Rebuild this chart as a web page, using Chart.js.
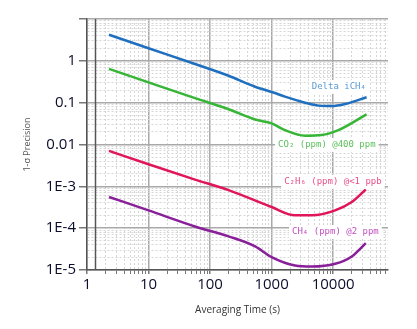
<!DOCTYPE html>
<html>
<head>
<meta charset="utf-8">
<script src="https://cdn.jsdelivr.net/npm/chart.js@4"></script>
<style>
  html, body { margin: 0; padding: 0; background: #fff; }
  #wrap { width: 417px; height: 329px; }
</style>
</head>
<body>
<div id="wrap"><canvas id="chart" width="417" height="329"></canvas></div>
<script>
// Averaging times (s) and 1-sigma precision
const iCH4Times = [2.28, 10, 57, 200, 540, 1070, 1650, 3500, 5800, 9500, 15700, 35000];
const iCH4Values = [4.2, 2.0, 0.84, 0.44, 0.24, 0.175, 0.139, 0.1, 0.085, 0.083, 0.093, 0.135];

const co2Times = [2.28, 10, 57, 200, 540, 1000, 1650, 3500, 6500, 12200, 35000];
const co2Values = [0.64, 0.305, 0.128, 0.0695, 0.0395, 0.032, 0.022, 0.0162, 0.0168, 0.022, 0.0527];

const c2h6Times = [2.28, 10, 57, 200, 1000, 2400, 4500, 10800, 20100, 34000];
const c2h6Values = [0.00706, 0.00337, 0.00145, 0.00081, 0.00032, 0.000203, 0.000203, 0.000267, 0.000422, 0.00084];

const ch4Times = [2.28, 10, 57, 200, 540, 1000, 2400, 4500, 10800, 20100, 34000];
const ch4Values = [5.57e-4, 2.66e-4, 1.1e-4, 6.36e-5, 3.66e-5, 2.03e-5, 1.28e-5, 1.21e-5, 1.41e-5, 2.11e-5, 4.39e-5];

const seriesNames = ['Delta iCH₄', 'CO₂ (ppm) @400 ppm', 'C₂H₆ (ppm) @<1 ppb', 'CH₄ (ppm) @2 ppm'];
const labelAnchorTimes = [4500, 1275, 1600, 2150];
const labelAnchorValues = [0.238, 0.0097, 0.00128, 8.06e-5];

const xTickValues = [1, 10, 100, 1000, 10000];
const xTickLabels = ['1', '10', '100', '1000', '10000'];
const yTickValues = [1e-5, 1e-4, 1e-3, 0.01, 0.1, 1];
const yTickLabels = ['1E-5', '1E-4', '1E-3', '0.01', '0.1', '1'];

const lineColors = ['#1f6fc0', '#36b536', '#e0155a', '#8a1f9a'];
const textColors = ['#5b9bd5', '#5cc05c', '#e8508a', '#c050c0'];

function toPoints(xs, ys) {
    return xs.map((x, i) => ({ x: x, y: ys[i] }));
}

function isDecade(v) {
    const l = Math.log10(v);
    return Math.abs(l - Math.round(l)) < 1e-9;
}

// 1..9 x 10^e for every decade between lo and hi
function logTicks(lo, hi) {
    const out = [];
    for (let e = Math.floor(Math.log10(lo)); e <= Math.ceil(Math.log10(hi)); e++) {
        for (let s = 1; s <= 9; s++) {
            const v = s * Math.pow(10, e);
            if (v >= lo * 0.999 && v <= hi * 1.001) out.push({ value: v });
        }
    }
    return out;
}

function labelFor(values, labels) {
    return function(value) {
        for (let i = 0; i < values.length; i++) {
            if (Math.abs(Math.log10(value) - Math.log10(values[i])) < 1e-6) return labels[i];
        }
        return '';
    };
}

const gridColor = ctx => (ctx.tick && isDecade(ctx.tick.value)) ? '#a9a9a9' : '#d6d6d6';
const gridWidth = ctx => (ctx.tick && isDecade(ctx.tick.value)) ? 1.5 : 1;
const gridDash = ctx => (ctx.tick && isDecade(ctx.tick.value)) ? [] : [2, 2];

// curve names with white boxes behind them, plus the inner ruler line
const seriesLabels = {
    id: 'seriesLabels',
    beforeDatasetsDraw(chart) {
        const { ctx, chartArea } = chart;
        ctx.save();
        ctx.strokeStyle = '#555';
        ctx.lineWidth = 1.5;
        ctx.beginPath();
        ctx.moveTo(chartArea.left + 8.5, chartArea.top);
        ctx.lineTo(chartArea.left + 8.5, chartArea.bottom);
        ctx.stroke();
        ctx.restore();
    },
    afterDatasetsDraw(chart) {
        const { ctx, scales } = chart;
        ctx.save();
        ctx.font = '9px "DejaVu Sans Mono"';
        ctx.textBaseline = 'middle';
        ctx.textAlign = 'left';
        seriesNames.forEach((name, i) => {
            const x = scales.x.getPixelForValue(labelAnchorTimes[i]);
            const y = scales.y.getPixelForValue(labelAnchorValues[i]);
            const w = ctx.measureText(name).width;
            ctx.fillStyle = '#fff';
            ctx.fillRect(x - 3, y - 7, w + 6, 14);
            ctx.fillStyle = textColors[i];
            ctx.fillText(name, x, y);
        });
        ctx.restore();
    }
};

const datasets = [
    toPoints(iCH4Times, iCH4Values),
    toPoints(co2Times, co2Values),
    toPoints(c2h6Times, c2h6Values),
    toPoints(ch4Times, ch4Values)
].map((pts, i) => ({
    label: seriesNames[i],
    data: pts,
    borderColor: lineColors[i],
    borderWidth: 2.5,
    pointRadius: 0,
    fill: false,
    cubicInterpolationMode: 'monotone'
}));

new Chart(document.getElementById('chart'), {
    type: 'line',
    data: { datasets: datasets },
    options: {
        responsive: false,
        animation: false,
        layout: { padding: { left: 0, right: 29, top: 19, bottom: 0 } },
        plugins: {
            legend: { display: false },
            tooltip: { enabled: false }
        },
        scales: {
            x: {
                type: 'logarithmic',
                min: 1,
                max: 78000,
                afterBuildTicks: scale => { scale.ticks = logTicks(1, 78000); },
                afterFit: scale => { scale.height = 59; },
                ticks: {
                    autoSkip: false,
                    maxRotation: 0,
                    padding: 2,
                    color: '#0c0c2c',
                    font: { family: '"Open Sans"', size: 15 },
                    callback: labelFor(xTickValues, xTickLabels)
                },
                grid: { color: gridColor, lineWidth: gridWidth, tickLength: 4, tickColor: '#777' },
                border: { color: '#555', width: 1.5, dash: gridDash },
                title: {
                    display: true,
                    text: 'Averaging Time (s)',
                    color: '#333',
                    font: { family: '"Open Sans"', size: 10 },
                    padding: { top: 0, bottom: 13 }
                }
            },
            y: {
                type: 'logarithmic',
                min: 1e-5,
                max: 10,
                afterBuildTicks: scale => { scale.ticks = logTicks(1e-5, 10); },
                afterFit: scale => { scale.width = 87; },
                ticks: {
                    autoSkip: false,
                    padding: 3,
                    color: '#0c0c2c',
                    font: { family: '"Open Sans"', size: 15 },
                    callback: labelFor(yTickValues, yTickLabels)
                },
                grid: { color: gridColor, lineWidth: gridWidth, tickLength: 8, tickColor: ctx => (ctx.tick && isDecade(ctx.tick.value)) ? '#777' : 'rgba(0,0,0,0)' },
                border: { color: '#555', width: 1.5, dash: gridDash },
                title: {
                    display: true,
                    text: '1-σ Precision',
                    color: '#555',
                    font: { family: '"Open Sans"', size: 9 },
                    padding: { top: 22, bottom: 0 }
                }
            }
        }
    },
    plugins: [seriesLabels]
});
</script>
</body>
</html>
